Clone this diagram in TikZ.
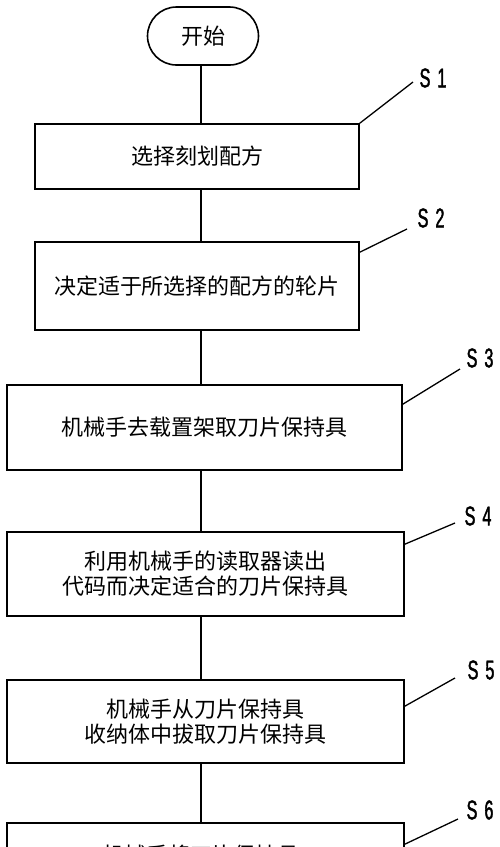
\documentclass[tikz,border=0pt]{standalone}
\usepackage{fontspec}
\newfontfamily\cjk{Noto Sans CJK SC}
\newfontfamily\labfont[FakeStretch=0.6,FakeBold=1.5]{Liberation Sans}
\usetikzlibrary{calc}
\begin{document}
\begin{tikzpicture}[x=1pt,y=-1pt,
  term/.style={draw,line width=1.6pt,rounded corners=29pt,minimum width=111pt,minimum height=58pt,inner sep=0pt,font=\cjk\fontsize{22}{25}\selectfont},
  stepbox/.style={draw,line width=1.6pt,inner sep=0pt,align=center,font=\cjk\fontsize{22}{25}\selectfont},
  txt/.style={inner sep=0pt,font=\cjk\fontsize{22}{25}\selectfont},
  flow/.style={line width=1.6pt},
  leader/.style={line width=1.3pt},
  lab/.style={inner sep=0pt,font=\labfont\fontsize{27}{27}\selectfont}]
\useasboundingbox (0,0) rectangle (500,847);
\clip (0,0) rectangle (500,847);
% nodes
\node[term] (start) at (203,36) {开始};
\node[stepbox,minimum width=324pt,minimum height=65pt] (s1) at (197,156.5) {选择刻划配方};
\node[stepbox,minimum width=324pt,minimum height=88pt] (s2) at (197,286) {决定适于所选择的配方的轮片};
\node[stepbox,minimum width=395pt,minimum height=85pt] (s3) at (204.5,427.5) {机械手去载置架取刀片保持具};
\node[stepbox,minimum width=397pt,minimum height=84pt] (s4) at (205.5,574) {利用机械手的读取器读出\\代码而决定适合的刀片保持具};
\node[stepbox,minimum width=397pt,minimum height=83pt] (s5) at (205.5,721.5) {机械手从刀片保持具\\收纳体中拔取刀片保持具};
\node[stepbox,minimum width=397pt,minimum height=86pt] (s6) at (205.5,866) {};
\node[txt] (s6t) at (201,855) {机械手将刀片保持具};
% flow lines
\coordinate (vx) at (201,0);
\draw[flow] (start.south -| vx) -- (s1.north -| vx);
\draw[flow] (s1.south -| vx) -- (s2.north -| vx);
\draw[flow] (s2.south -| vx) -- (s3.north -| vx);
\draw[flow] (s3.south -| vx) -- (s4.north -| vx);
\draw[flow] (s4.south -| vx) -- (s5.north -| vx);
\draw[flow] (s5.south -| vx) -- (s6.north -| vx);
% labels
\node[lab] (l1) at (433,78) {S\hspace{7pt}1};
\node[lab] (l2) at (431,218) {S\hspace{7pt}2};
\node[lab] (l3) at (480,358) {S\hspace{7pt}3};
\node[lab] (l4) at (478,516) {S\hspace{7pt}4};
\node[lab] (l5) at (481,670) {S\hspace{7pt}5};
\node[lab] (l6) at (480,810) {S\hspace{7pt}6};
\coordinate (e1) at (413,82);
\coordinate (e2) at (407,229);
\coordinate (e3) at (460,369);
\coordinate (e4) at (455,523);
\coordinate (e5) at (455,678);
\coordinate (e6) at (458,819);
\draw[leader] (s1.north east) -- (e1);
\draw[leader] ($(s2.north east)+(0,11)$) -- (e2);
\draw[leader] ($(s3.north east)+(0,20)$) -- (e3);
\draw[leader] ($(s4.north east)+(0,13)$) -- (e4);
\draw[leader] ($(s5.north east)+(0,27)$) -- (e5);
\draw[leader] ($(s6.north east)+(0,22)$) -- (e6);
\end{tikzpicture}
\end{document}
